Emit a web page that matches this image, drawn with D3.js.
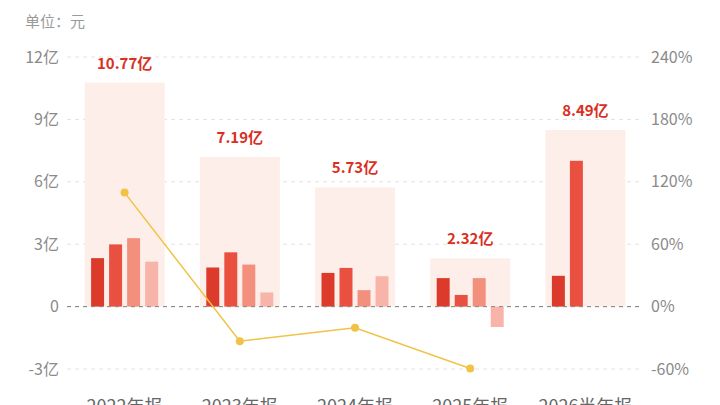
<!DOCTYPE html>
<html>
<head>
<meta charset="utf-8">
<script src="https://cdn.jsdelivr.net/npm/d3@7"></script>
<style>
  body { margin: 0; background: #fff; }
  svg { display: block; font-family: "Noto Sans CJK SC", "Noto Sans", sans-serif; }
</style>
</head>
<body>
<div id="chart"></div>
<script>
// Data
const categories = ["2022年报", "2023年报", "2024年报", "2025年报", "2026半年报"];
const totals = [10.77, 7.19, 5.73, 2.32, 8.49];           // 亿
const totalLabels = ["10.77亿", "7.19亿", "5.73亿", "2.32亿", "8.49亿"];
const q1 = [2.33, 1.88, 1.62, 1.37, 1.48];
const q2 = [2.99, 2.61, 1.86, 0.56, 7.01];
const q3 = [3.29, 2.02, 0.79, 1.37, null];
const q4 = [2.16, 0.68, 1.46, -0.98, null];
const growth = [109.6, -33.2, -20.3, -59.5, null];          // %
const leftTicks = [-3, 0, 3, 6, 9, 12];
const rightTicks = [-60, 0, 60, 120, 180, 240];

const W = 720, H = 405;
const margin = { top: 57, right: 77, bottom: 36, left: 67 };

const svg = d3.select("#chart").append("svg")
  .attr("width", W)
  .attr("height", H);

const x = d3.scaleBand()
  .domain(categories)
  .range([margin.left, W - margin.right]);

const slot = d3.scaleBand()
  .domain([0, 1, 2, 3])
  .range([-33.5, 33.5])
  .paddingInner(0.28);

const y = d3.scaleLinear().domain([-3, 12]).range([H - margin.bottom, margin.top]);
const yR = d3.scaleLinear().domain([-60, 240]).range([H - margin.bottom, margin.top]);

const quarterColors = ["#dc3a2a", "#e9503f", "#f28f7d", "#f9b4a9"];

// Unit
svg.append("text")
  .attr("x", 25).attr("y", 27)
  .attr("fill", "#9a9a9a")
  .style("font-size", "15px")
  .text("单位：元");

// Gridlines
svg.append("g").selectAll("line")
  .data(leftTicks)
  .join("line")
  .attr("x1", margin.left).attr("x2", W - margin.right)
  .attr("y1", d => y(d)).attr("y2", d => y(d))
  .attr("stroke", d => d === 0 ? "#8a8a8a" : "#e2e2e2")
  .attr("stroke-width", 1)
  .attr("stroke-dasharray", "4,4");

// Left axis labels
const leftAxis = svg.append("g")
  .attr("transform", `translate(${margin.left - 8},0)`)
  .call(d3.axisLeft(y).tickValues(leftTicks).tickSize(0).tickFormat(d => d === 0 ? "0" : d + "亿"));
leftAxis.select(".domain").remove();
leftAxis.selectAll("text")
  .attr("x", 0)
  .attr("fill", "#8a8a8a")
  .style("font-size", "16px")
  .style("font-family", "'Noto Sans CJK SC', sans-serif");

// Right axis labels
const rightAxis = svg.append("g")
  .attr("transform", `translate(${W - margin.right + 8},0)`)
  .call(d3.axisRight(yR).tickValues(rightTicks).tickSize(0).tickFormat(d => d + "%"));
rightAxis.select(".domain").remove();
rightAxis.selectAll("text")
  .attr("x", 0)
  .attr("fill", "#8a8a8a")
  .style("font-size", "16px")
  .style("font-family", "'Noto Sans CJK SC', sans-serif");

// Background total bars
const cx = d => x(d) + x.bandwidth() / 2;
svg.append("g").selectAll("rect")
  .data(categories)
  .join("rect")
  .attr("x", d => cx(d) - 40)
  .attr("width", 80)
  .attr("y", (d, i) => y(totals[i]))
  .attr("height", (d, i) => y(0) - y(totals[i]))
  .attr("fill", "#fdeeea");

// Total labels
svg.append("g").selectAll("text")
  .data(categories)
  .join("text")
  .attr("x", d => cx(d))
  .attr("y", (d, i) => y(totals[i]) - 14)
  .attr("text-anchor", "middle")
  .attr("fill", "#d9301f")
  .style("font-size", "15px")
  .style("font-weight", "bold")
  .text((d, i) => totalLabels[i]);

// Quarter bars
const quarters = [q1, q2, q3, q4];
quarters.forEach((series, k) => {
  svg.append("g").selectAll("rect")
    .data(categories.map((c, i) => ({ c, v: series[i] })).filter(d => d.v !== null))
    .join("rect")
    .attr("x", d => cx(d.c) + slot(k))
    .attr("width", slot.bandwidth())
    .attr("y", d => y(Math.max(0, d.v)))
    .attr("height", d => Math.abs(y(d.v) - y(0)))
    .attr("fill", quarterColors[k]);
});

// Zero line again over bars
svg.append("line")
  .attr("x1", margin.left).attr("x2", W - margin.right)
  .attr("y1", y(0)).attr("y2", y(0))
  .attr("stroke", "#8a8a8a")
  .attr("stroke-dasharray", "4,4");

// Growth line
const growthPts = categories.map((c, i) => ({ c, v: growth[i] })).filter(d => d.v !== null);
svg.append("path")
  .datum(growthPts)
  .attr("fill", "none")
  .attr("stroke", "#f0c347")
  .attr("stroke-width", 1.5)
  .attr("d", d3.line().x(d => cx(d.c)).y(d => yR(d.v)));

svg.append("g").selectAll("circle")
  .data(growthPts)
  .join("circle")
  .attr("cx", d => cx(d.c))
  .attr("cy", d => yR(d.v))
  .attr("r", 4)
  .attr("fill", "#f0c347");

// X labels
svg.append("g").selectAll("text")
  .data(categories)
  .join("text")
  .attr("x", d => cx(d))
  .attr("y", 413)
  .attr("text-anchor", "middle")
  .attr("fill", "#666")
  .style("font-size", "18px")
  .text(d => d);
</script>
</body>
</html>
